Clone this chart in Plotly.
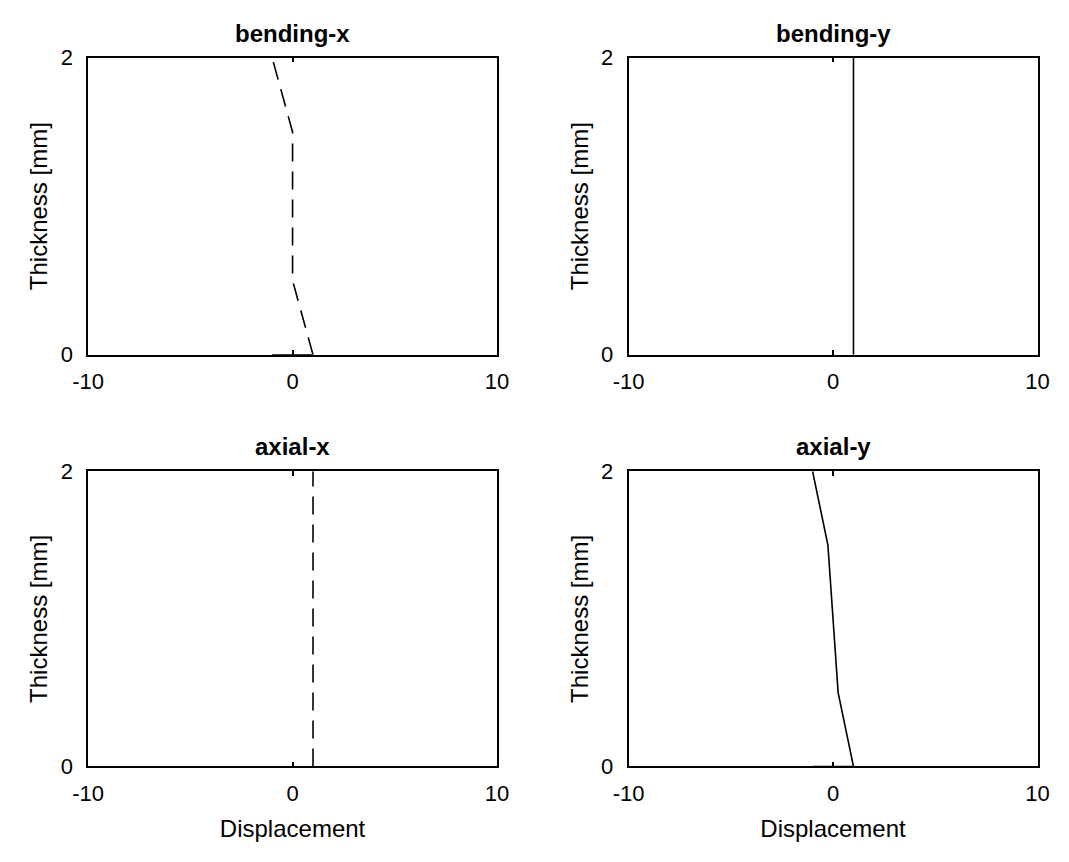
import plotly.graph_objects as go

# Data
thickness = [0, 0.5, 1.5, 2]
bending_x = [1, 0, 0, -1]
bending_y = [1, 1, 1, 1]
axial_x = [1, 1, 1, 1]
axial_y = [1, 0.25, -0.25, -1]
base_x = [-1, 1]
base_y = [0, 0]

titles = ["bending-x", "bending-y", "axial-x", "axial-y"]
series = [bending_x, bending_y, axial_x, axial_y]
dashes = ["18px,10px", "solid", "18px,10px", "solid"]
show_base = [True, False, False, True]
xticks = [-10, 0, 10]
yticks = [0, 2]

W, H = 1069, 862
xdom = [[74 / W, 494 / W], [629 / W, 1049 / W]]
ydom = [[1 - 353 / H, 1 - 47 / H], [1 - 777 / H, 1 - 473 / H]]

FONT = "Liberation Sans, Arial, sans-serif"
fig = go.Figure()
layout = dict(
    width=W, height=H, margin=dict(l=0, r=0, t=0, b=0),
    paper_bgcolor="white", plot_bgcolor="white", showlegend=False,
    font=dict(family=FONT, color="black", size=22),
)
annotations = []
for i in range(4):
    r, c = divmod(i, 2)
    n = "" if i == 0 else str(i + 1)
    xa, ya = "x" + n, "y" + n
    if show_base[i]:
        fig.add_trace(go.Scatter(x=base_x, y=base_y, mode="lines",
                                 line=dict(color="black", width=1.5),
                                 xaxis=xa, yaxis=ya, hoverinfo="skip"))
    fig.add_trace(go.Scatter(x=series[i], y=thickness, mode="lines",
                             line=dict(color="black", width=1.6, dash=dashes[i]),
                             xaxis=xa, yaxis=ya))
    common = dict(showgrid=False, zeroline=False, showline=True, linecolor="black",
                  linewidth=1.5, mirror="ticks", ticks="inside", ticklen=5,
                  tickwidth=1.5, tickcolor="black",
                  tickfont=dict(family=FONT, size=22, color="black"))
    layout["xaxis" + n] = dict(common, domain=xdom[c], range=[-10, 10],
                               tickvals=xticks, ticktext=[str(v) for v in xticks],
                               anchor=ya, ticklabelstandoff=6,
                               title=dict(text="Displacement" if r == 1 else "",
                                          font=dict(family=FONT, size=24), standoff=16))
    layout["yaxis" + n] = dict(common, domain=ydom[r], range=[0, 2],
                               tickvals=yticks, ticktext=[str(v) for v in yticks],
                               anchor=xa, ticklabelstandoff=9,
                               title=dict(text="Thickness [mm]",
                                          font=dict(family=FONT, size=24), standoff=6))
    annotations.append(dict(text="<b>" + titles[i] + "</b>", xref="paper", yref="paper",
                            x=(xdom[c][0] + xdom[c][1]) / 2, y=ydom[r][1],
                            xanchor="center", yanchor="bottom", yshift=9,
                            showarrow=False, font=dict(family=FONT, size=24, color="black")))
layout["annotations"] = annotations
fig.update_layout(**layout)
fig.write_html("out.html")
